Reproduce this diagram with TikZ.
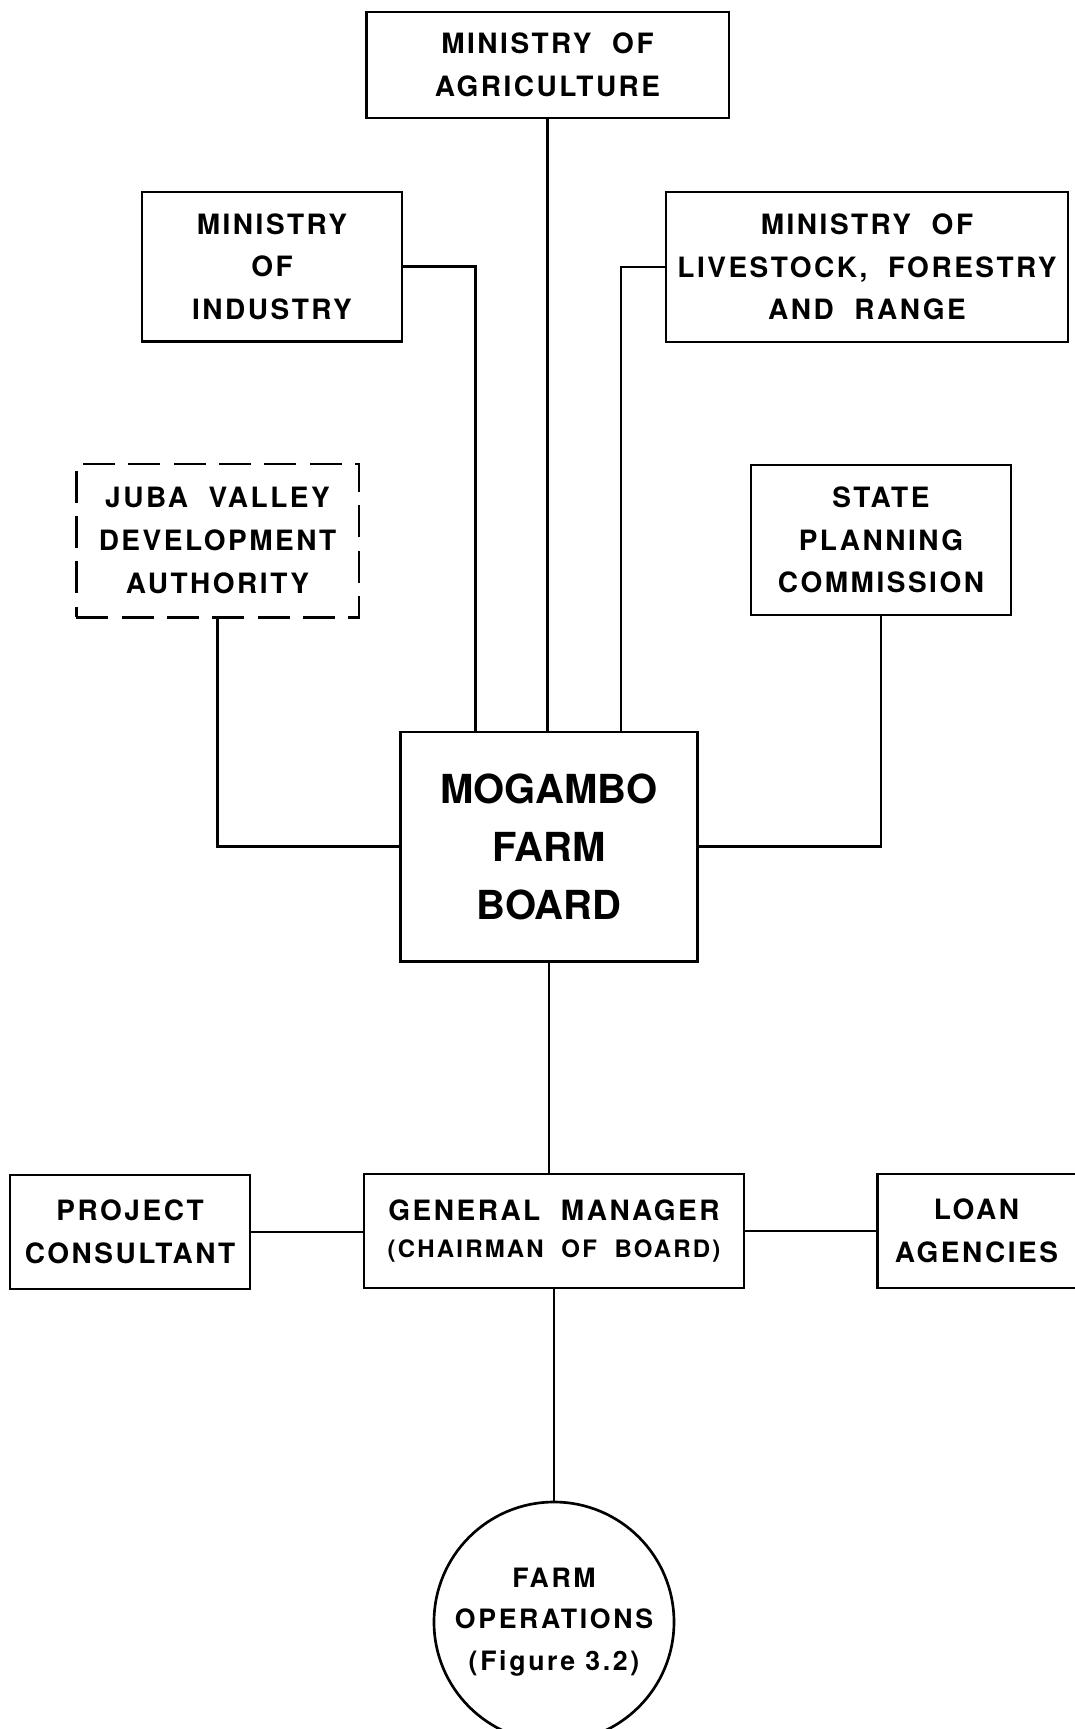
\documentclass[tikz,border=0pt]{standalone}
\usepackage{fontspec}
\newfontfamily\chartfont{TeX Gyre Heros}[LetterSpace=9, WordSpace=2]
\newfontfamily\smallfont{TeX Gyre Heros}[LetterSpace=9, WordSpace=2]
\newfontfamily\boardfont{TeX Gyre Heros}
\newfontfamily\figfont{TeX Gyre Heros}[LetterSpace=10]
\usepackage{tikz}
\tikzstyle{orgbox} = [rectangle, draw=black, line width=2pt, align=center, inner sep=0pt, font=\chartfont\bfseries\fontsize{21}{32}\selectfont]
\tikzstyle{link} = [line width=2pt]

\begin{document}
\begin{tikzpicture}[x=0.75pt, y=-0.75pt]
	\useasboundingbox (0,0) rectangle (1075,1729);
	\node (agri) at (547.5, 65) [orgbox, minimum width=272pt, minimum height=79.5pt] {MINISTRY OF\\AGRICULTURE};
	\node (industry) at (272, 266.5) [orgbox, minimum width=195pt, minimum height=112pt] {MINISTRY\\OF\\INDUSTRY};
	\node (livestock) at (867, 267) [orgbox, minimum width=301.5pt, minimum height=112.5pt] {MINISTRY OF\\LIVESTOCK, FORESTRY\\AND RANGE};
	\node (juba) at (217.5, 540.5) [orgbox, dash pattern=on 24pt off 10pt, minimum width=212pt, minimum height=115pt] {JUBA VALLEY\\DEVELOPMENT\\AUTHORITY};
	\node (spc) at (881, 540) [orgbox, minimum width=195pt, minimum height=112.5pt] {STATE\\PLANNING\\COMMISSION};
	\node (board) at (549, 846.5) [orgbox, minimum width=223pt, minimum height=172pt, font=\boardfont\bfseries\fontsize{30}{43.5}\selectfont] {MOGAMBO\\FARM\\BOARD};
	\node (gm) at (554, 1231) [orgbox, minimum width=285pt, minimum height=85.5pt] {GENERAL MANAGER\\[-4pt]{\smallfont\fontsize{18}{24}\selectfont (CHAIRMAN OF BOARD)}};
	\node (consultant) at (130, 1232) [orgbox, minimum width=180pt, minimum height=85.5pt] {PROJECT\\CONSULTANT};
	\node (loan) at (976.5, 1231) [orgbox, minimum width=149pt, minimum height=85.5pt] {LOAN\\AGENCIES};
	\node (farm) at (554, 1622) [orgbox, circle, minimum size=180pt, font=\figfont\bfseries\fontsize{20}{31}\selectfont] {FARM\\OPERATIONS\\(Figure 3.2)};
	\draw[link] (agri.south) -- (agri.south |- board.north);
	\draw[link] (industry.east) -| ([xshift=-55pt]board.north);
	\draw[link] (livestock.west) -| ([xshift=54pt]board.north);
	\draw[link] (juba.south) |- (board.west);
	\draw[link] (spc.south) |- (board.east);
	\draw[link] (board.south) -- (board.south |- gm.north);
	\draw[link] (consultant.east) -- (consultant.east -| gm.west);
	\draw[link] (gm.east) -- (loan.west);
	\draw[link] (gm.south) -- (farm.north);
\end{tikzpicture}
\end{document}
